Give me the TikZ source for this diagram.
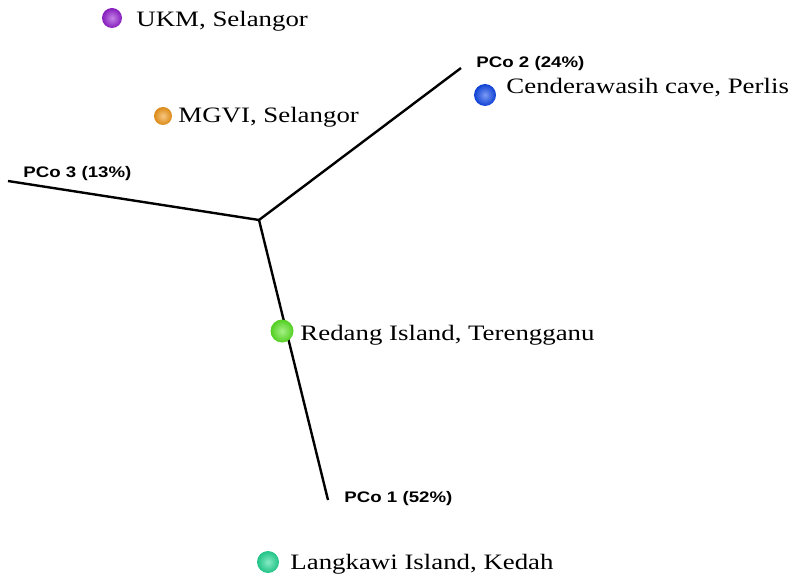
\documentclass[tikz,border=0pt]{standalone}
\usepackage{fontspec}
\setmainfont{Liberation Serif}
\setsansfont{Liberation Sans}

\begin{document}
\begin{tikzpicture}[x=1pt,y=-1pt,line width=2.4pt,
	ort/.style={font=\fontsize{22}{24}\selectfont,anchor=base west,inner sep=0pt,xscale=1.22,transform shape},
	achse/.style={font=\sffamily\bfseries\fontsize{15.3}{17}\selectfont,anchor=base west,inner sep=0pt,xscale=1.22,transform shape},
	fleck/.style={circle,inner sep=0pt,minimum size=#1,draw=none},
	farbe/.style={shading=radial,inner color=#1!55!white,outer color=#1!90!black}]

\definecolor{lila}{rgb}{0.58,0.12,0.82}
\definecolor{orange}{rgb}{0.95,0.60,0.10}
\definecolor{blau}{rgb}{0.06,0.28,0.92}
\definecolor{hellgruen}{rgb}{0.36,0.90,0.14}
\definecolor{tuerkis}{rgb}{0.14,0.85,0.58}

\useasboundingbox (0,0) rectangle (794,577);

% Achsen
\coordinate (mitte) at (259,220);
\coordinate (ende1) at (328,500);
\coordinate (ende2) at (461,68);
\coordinate (ende3) at (8,181);
\draw (mitte) -- (ende1);
\draw (mitte) -- (ende2);
\draw (mitte) -- (ende3);

\node[achse] (pco1) at (343,502) {PCo 1 (52\%)};
\node[achse] (pco2) at (475,68) {PCo 2 (24\%)};
\node[achse] (pco3) at (22,178) {PCo 3 (13\%)};

% Proben
\node[fleck=20pt,farbe=lila] (ukm) at (112,18) {};
\node[ort] (ukmtext) at (135,27) {UKM, Selangor};

\node[fleck=18pt,farbe=orange] (mgvi) at (163,116) {};
\node[ort] (mgvitext) at (177,123) {MGVI, Selangor};

\node[fleck=22pt,farbe=blau] (cender) at (485,95) {};
\node[ort] (cendertext) at (505,94) {Cenderawasih cave, Perlis};

\node[fleck=23pt,farbe=hellgruen] (redang) at (282,331) {};
\node[ort] (redangtext) at (299,340) {Redang Island, Terengganu};

\node[fleck=22pt,farbe=tuerkis] (langkawi) at (268,562) {};
\node[ort] (langkawitext) at (289,569) {Langkawi Island, Kedah};

\end{tikzpicture}
\end{document}
